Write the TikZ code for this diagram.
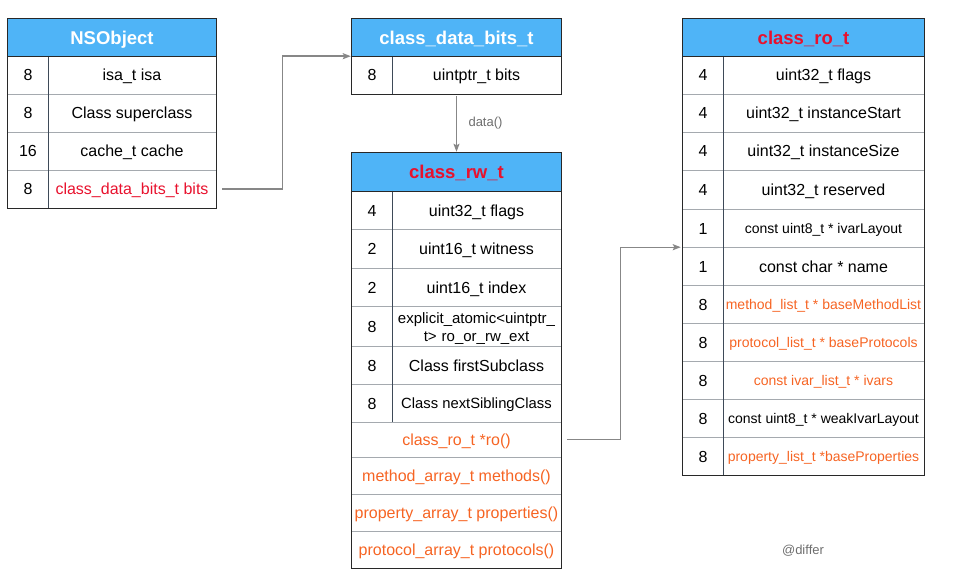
\documentclass[tikz,border=0pt]{standalone}
\usepackage{fontspec}
\setmainfont{Liberation Sans}
\usetikzlibrary{arrows.meta}

\definecolor{hdrblue}{RGB}{79,180,247}
\definecolor{keyred}{RGB}{232,17,45}
\definecolor{accent}{RGB}{246,100,35}
\definecolor{framec}{RGB}{40,40,40}
\definecolor{rowc}{RGB}{165,170,175}
\definecolor{colc}{RGB}{62,74,88}
\definecolor{wirec}{RGB}{135,135,135}
\definecolor{notec}{RGB}{110,110,110}

\begin{document}
\begin{tikzpicture}[x=1pt,y=-1pt,
  title/.style={rectangle, fill=hdrblue, inner sep=0pt, minimum height=37pt,
    text height=13.6pt, text depth=0pt,
    font=\fontsize{18.5}{22}\selectfont\bfseries, text=white},
  num/.style={rectangle, inner sep=0pt, minimum width=40pt,
    text height=12pt, text depth=0pt, font=\fontsize{16}{19}\selectfont},
  fld/.style={rectangle, inner sep=0pt, text height=12pt, text depth=0pt,
    font=\fontsize{16}{19}\selectfont},
  small/.style={text height=10.4pt, text depth=0pt, font=\fontsize{14}{17}\selectfont},
  wrapfld/.style={rectangle, inner sep=0pt, align=center,
    font=\fontsize{15}{18.5}\selectfont},
  rowsep/.style={draw=rowc, line width=1pt},
  colsep/.style={draw=colc, line width=1pt},
  framed/.style={draw=framec, line width=1pt},
  wire/.style={draw=wirec, line width=1.4pt,
    -{Stealth[length=8pt,width=6pt,inset=1.5pt]}},
]
\useasboundingbox (0,0) rectangle (962,583);

% ---------------- NSObject ----------------
\node[title, minimum width=208pt] (A) at (112,37.5) {NSObject};
\node[num, minimum height=38pt] (a1n) at (28,75)  {8};
\node[fld, minimum width=168pt, minimum height=38pt] (a1f) at (132,75)  {isa\_t isa};
\node[num, minimum height=38pt] (a2n) at (28,113) {8};
\node[fld, minimum width=168pt, minimum height=38pt] (a2f) at (132,113) {Class superclass};
\node[num, minimum height=38pt] (a3n) at (28,151) {16};
\node[fld, minimum width=168pt, minimum height=38pt] (a3f) at (132,151) {cache\_t cache};
\node[num, minimum height=38pt] (a4n) at (28,189) {8};
\node[fld, minimum width=168pt, minimum height=38pt, text=keyred] (a4f) at (132,189) {class\_data\_bits\_t bits};
\foreach \r in {1,2,3} \draw[rowsep] (a\r n.south west) -- (a\r f.east |- a\r n.south);
\draw[colsep] (a1n.north east) -- (a4n.south east);
\draw[framed] (A.south west) -- (A.south east);
\draw[framed] (A.north west) rectangle (a4f.east |- a4n.south);

% ---------------- class_data_bits_t ----------------
\node[title, minimum width=209pt] (B) at (456.5,37.5) {class\_data\_bits\_t};
\node[num, minimum height=38pt] (b1n) at (372,75) {8};
\node[fld, minimum width=169pt, minimum height=38pt] (b1f) at (476.5,75) {uintptr\_t bits};
\draw[colsep] (b1n.north east) -- (b1n.south east);
\draw[framed] (B.south west) -- (B.south east);
\draw[framed] (B.north west) rectangle (b1f.east |- b1n.south);

% ---------------- class_rw_t ----------------
\node[title, minimum width=209pt, minimum height=38pt, text=keyred] (C) at (456.5,172) {class\_rw\_t};
\node[num, minimum height=38pt] (c1n) at (372,210) {4};
\node[fld, minimum width=169pt, minimum height=38pt] (c1f) at (476.5,210) {uint32\_t flags};
\node[num, minimum height=39pt] (c2n) at (372,248.5) {2};
\node[fld, minimum width=169pt, minimum height=39pt] (c2f) at (476.5,248.5) {uint16\_t witness};
\node[num, minimum height=38pt] (c3n) at (372,287) {2};
\node[fld, minimum width=169pt, minimum height=38pt] (c3f) at (476.5,287) {uint16\_t index};
\node[num, minimum height=40pt] (c4n) at (372,326) {8};
\node[wrapfld, minimum width=169pt, text width=166pt] (c4f) at (476.5,328.5) {explicit\_atomic<uintptr\_\\t> ro\_or\_rw\_ext};
\node[num, minimum height=38pt] (c5n) at (372,365) {8};
\node[fld, minimum width=169pt, minimum height=38pt] (c5f) at (476.5,365) {Class firstSubclass};
\node[num, minimum height=38pt] (c6n) at (372,403) {8};
\node[fld, minimum width=169pt, minimum height=38pt, text height=11pt,
  font=\fontsize{14.8}{18}\selectfont] (c6f) at (476.5,403) {Class nextSiblingClass};
\node[fld, minimum width=209pt, minimum height=35pt, text=accent] (c7f) at (456.5,439.5) {class\_ro\_t *ro()};
\node[fld, minimum width=209pt, minimum height=37pt, text=accent] (c8f) at (456.5,475.5) {method\_array\_t methods()};
\node[fld, minimum width=209pt, minimum height=37pt, text=accent] (c9f) at (456.5,512.5) {property\_array\_t properties()};
\node[fld, minimum width=209pt, minimum height=37pt, text=accent] (c10f) at (456.5,549.5) {protocol\_array\_t protocols()};
\foreach \r in {1,...,6} \draw[rowsep] (c\r n.south west) -- (c1f.east |- c\r n.south);
\foreach \r in {7,8,9} \draw[rowsep] (c\r f.south west) -- (c\r f.south east);
\draw[colsep] (c1n.north east) -- (c6n.south east);
\draw[framed] (C.south west) -- (C.south east);
\draw[framed] (C.north west) rectangle (c10f.south east);

% ---------------- class_ro_t ----------------
\node[title, minimum width=241pt, text=keyred] (D) at (803.5,37.5) {class\_ro\_t};
\node[num, minimum height=38pt] (d1n) at (703,75) {4};
\node[fld, minimum width=201pt, minimum height=38pt] (d1f) at (823.5,75) {uint32\_t flags};
\node[num, minimum height=38pt] (d2n) at (703,113) {4};
\node[fld, minimum width=201pt, minimum height=38pt] (d2f) at (823.5,113) {uint32\_t instanceStart};
\node[num, minimum height=38pt] (d3n) at (703,151) {4};
\node[fld, minimum width=201pt, minimum height=38pt] (d3f) at (823.5,151) {uint32\_t instanceSize};
\node[num, minimum height=39pt] (d4n) at (703,189.5) {4};
\node[fld, minimum width=201pt, minimum height=39pt] (d4f) at (823.5,189.5) {uint32\_t reserved};
\node[num, minimum height=38pt] (d5n) at (703,228) {1};
\node[fld, small, minimum width=201pt, minimum height=38pt] (d5f) at (823.5,228) {const uint8\_t * ivarLayout};
\node[num, minimum height=38pt] (d6n) at (703,266) {1};
\node[fld, minimum width=201pt, minimum height=38pt] (d6f) at (823.5,266) {const char * name};
\node[num, minimum height=38pt] (d7n) at (703,304) {8};
\node[fld, small, minimum width=201pt, minimum height=38pt, text=accent] (d7f) at (823.5,304) {method\_list\_t * baseMethodList};
\node[num, minimum height=38pt] (d8n) at (703,342) {8};
\node[fld, small, minimum width=201pt, minimum height=38pt, text=accent] (d8f) at (823.5,342) {protocol\_list\_t * baseProtocols};
\node[num, minimum height=38pt] (d9n) at (703,380) {8};
\node[fld, small, minimum width=201pt, minimum height=38pt, text=accent] (d9f) at (823.5,380) {const ivar\_list\_t * ivars};
\node[num, minimum height=38pt] (d10n) at (703,418) {8};
\node[fld, small, minimum width=201pt, minimum height=38pt] (d10f) at (823.5,418) {const uint8\_t * weakIvarLayout};
\node[num, minimum height=38pt] (d11n) at (703,456) {8};
\node[fld, small, minimum width=201pt, minimum height=38pt, text=accent] (d11f) at (823.5,456) {property\_list\_t *baseProperties};
\foreach \r in {1,...,10} \draw[rowsep] (d\r n.south west) -- (d1f.east |- d\r n.south);
\draw[colsep] (d1n.north east) -- (d11n.south east);
\draw[framed] (D.south west) -- (D.south east);
\draw[framed] (D.north west) rectangle (d1f.east |- d11n.south);

% ---------------- connectors ----------------
\draw[wire, shorten >=1pt] ([xshift=6pt]a4f.east) -- ++(60,0) |- (B.south west);
\draw[wire, shorten <=2pt, shorten >=1pt] (B.center |- b1n.south) -- (C.north)
  node[midway, right=8pt, text=notec, font=\fontsize{13}{15}\selectfont] (lbl) {data()};
\draw[wire, shorten >=2pt] ([xshift=6pt]c7f.east) -- ++(53,0) |- (d5n.south west);

\node[text=notec, font=\fontsize{13}{15}\selectfont] (sig) at (803,551) {@differ};
\end{tikzpicture}
\end{document}
